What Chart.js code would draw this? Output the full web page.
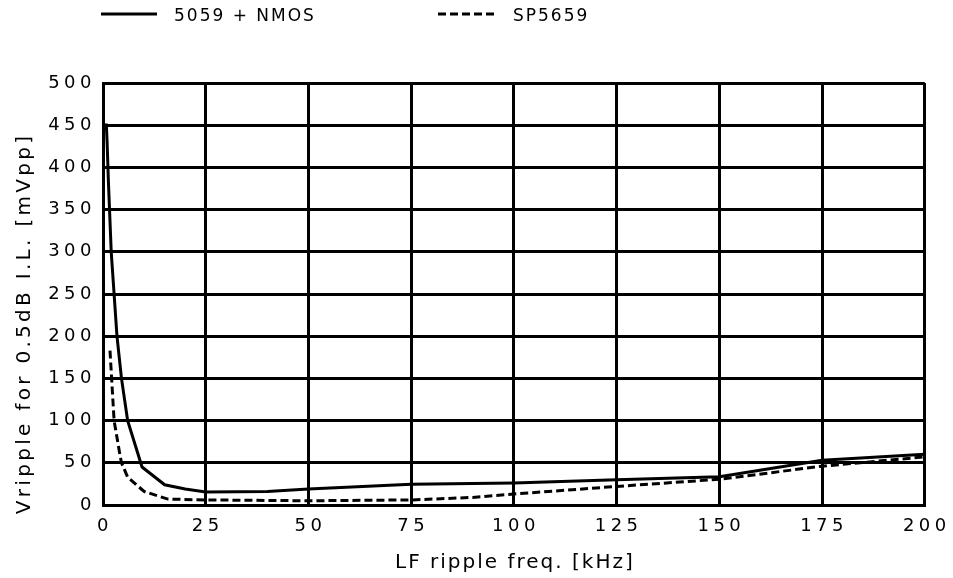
<!DOCTYPE html>
<html>
<head>
<meta charset="utf-8">
<script src="https://cdn.jsdelivr.net/npm/chart.js@4.4.1/dist/chart.umd.min.js"></script>
<style>
html,body{margin:0;padding:0;background:#fff;}
#wrap{width:953px;height:578px;position:relative;}
</style>
</head>
<body>
<div id="wrap"><canvas id="c" width="953" height="578"></canvas></div>
<script>
// ---- data ----
const seriesNames = ["5059 + NMOS", "SP5659"];
const nmosFreq = [0.8, 1.0, 1.3, 2.0, 3.4, 4.5, 6.0, 9.5, 15, 20, 25, 40, 50, 75, 100, 125, 150, 175, 200];
const nmosVal  = [452, 430, 385, 300, 200, 150, 100, 45, 24, 19, 15.5, 16, 19, 24.5, 26, 30, 33.5, 53, 60];
const spFreq = [1.7, 2.1, 2.7, 4.1, 4.5, 6.0, 10, 15.8, 25, 50, 75, 90, 100, 125, 150, 175, 200];
const spVal  = [183, 150, 100, 60, 50, 33, 16, 7, 6, 5, 6, 9, 13, 22, 30.5, 46, 57];
const xTicks = [0, 25, 50, 75, 100, 125, 150, 175, 200];
const yTicks = [0, 50, 100, 150, 200, 250, 300, 350, 400, 450, 500];
const xTitle = "LF ripple freq. [kHz]";
const yTitle = "Vripple for 0.5dB I.L. [mVpp]";

const toPts = (xs, ys) => xs.map((x, i) => ({x: x, y: ys[i]}));

const FONT = "'DejaVu Sans', 'Liberation Sans', Arial, sans-serif";
const TICK_SPACING = '4.5px';

const spacingPlugin = {
  id: 'spacing',
  beforeDraw(chart) { chart.ctx.letterSpacing = TICK_SPACING; }
};

const textPlugin = {
  id: 'customText',
  afterDraw(chart) {
    const ctx = chart.ctx;
    const area = chart.chartArea;
    // legend
    const items = [
      {x1: 101, x2: 157, tx: 174},
      {x1: 438, x2: 494, tx: 513}
    ];
    ctx.save();
    ctx.letterSpacing = '2px';
    chart.data.datasets.forEach((ds, i) => {
      const it = items[i];
      const y = 14;
      ctx.beginPath();
      ctx.strokeStyle = ds.borderColor;
      ctx.lineWidth = ds.borderWidth;
      ctx.setLineDash(ds.borderDash || []);
      ctx.moveTo(it.x1, y);
      ctx.lineTo(it.x2, y);
      ctx.stroke();
      ctx.setLineDash([]);
      ctx.fillStyle = '#000';
      ctx.font = "17px " + FONT;
      ctx.textBaseline = 'alphabetic';
      ctx.textAlign = 'left';
      ctx.fillText(ds.label, it.tx, 21);
    });
    ctx.restore();

    // x axis title
    ctx.save();
    ctx.fillStyle = '#000';
    ctx.font = "20px " + FONT;
    ctx.letterSpacing = '2px';
    ctx.textAlign = 'center';
    ctx.textBaseline = 'alphabetic';
    ctx.fillText(xTitle, (area.left + area.right) / 2 + 1, 568);
    ctx.restore();

    // y axis title
    ctx.save();
    ctx.fillStyle = '#000';
    ctx.font = "20px " + FONT;
    ctx.letterSpacing = '3.3px';
    ctx.textAlign = 'center';
    ctx.textBaseline = 'alphabetic';
    ctx.translate(30, 325);
    ctx.rotate(-Math.PI / 2);
    ctx.fillText(yTitle, 1.6, 0);
    ctx.restore();
  }
};

new Chart(document.getElementById('c'), {
  type: 'line',
  data: {
    datasets: [
      {label: seriesNames[0], data: toPts(nmosFreq, nmosVal), borderColor: '#000', borderWidth: 3, pointRadius: 0, tension: 0, fill: false},
      {label: seriesNames[1], data: toPts(spFreq, spVal), borderColor: '#000', borderWidth: 3, borderDash: [8, 4], pointRadius: 0, tension: 0, fill: false}
    ]
  },
  options: {
    responsive: false,
    animation: false,
    devicePixelRatio: 1,
    layout: {padding: {top: 83, right: 28, left: 0, bottom: 0}},
    plugins: {legend: {display: false}, tooltip: {enabled: false}},
    scales: {
      x: {
        type: 'linear', min: 0, max: 200,
        afterBuildTicks: (s) => { s.ticks = xTicks.map(v => ({value: v})); },
        afterFit: (s) => { s.height = 73; },
        grid: {color: '#000', lineWidth: 3, drawTicks: false},
        border: {color: '#000', width: 3},
        ticks: {color: '#000', font: {family: FONT, size: 18}, padding: 11, maxRotation: 0, labelOffset: 2},
        title: {display: false}
      },
      y: {
        type: 'linear', min: 0, max: 500,
        afterBuildTicks: (s) => { s.ticks = yTicks.map(v => ({value: v})); },
        afterFit: (s) => { s.width = 103; },
        grid: {color: '#000', lineWidth: 3, drawTicks: false},
        border: {color: '#000', width: 3},
        ticks: {color: '#000', font: {family: FONT, size: 18}, padding: 7},
        title: {display: false}
      }
    }
  },
  plugins: [spacingPlugin, textPlugin]
});
</script>
</body>
</html>
